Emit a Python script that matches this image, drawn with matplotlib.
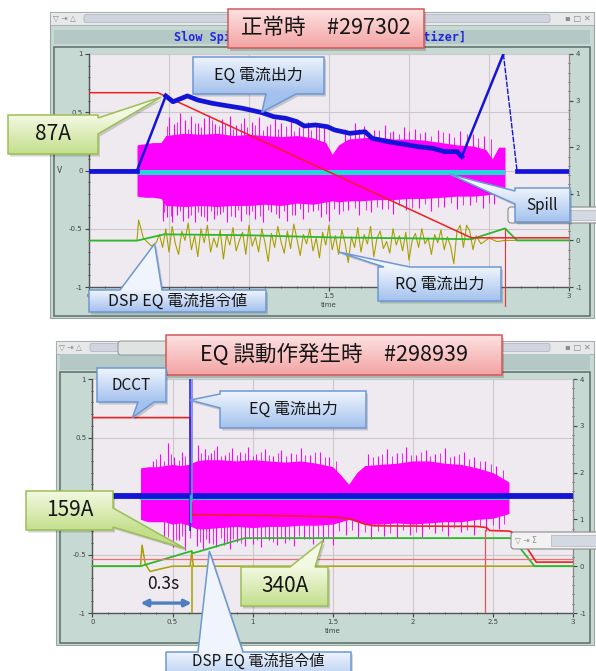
import numpy as np
import matplotlib
matplotlib.use('Agg')
import matplotlib.pyplot as plt
from matplotlib.patches import Rectangle, FancyBboxPatch, Polygon
from matplotlib.ticker import MultipleLocator
from matplotlib.colors import to_rgb

JP = ['Noto Sans CJK JP', 'DejaVu Sans']

# ---------------- top shot (normal, #297302) ----------------
red1_t = [0.00, 0.43, 2.39, 3.00]
red1_v = [0.668, 0.668, -0.578, -0.578]

blue1_t = [0.00, 0.30, 0.48, 0.525, 0.615, 0.68, 0.77, 0.87, 0.96, 1.08, 1.155, 1.23, 1.30, 1.345,
           1.415, 1.49, 1.535, 1.63, 1.725, 1.77, 1.87, 1.96, 2.06, 2.15, 2.22, 2.30, 2.33, 2.59, 2.675, 3.00]
blue1_v = [0.00, 0.00, 0.64, 0.59, 0.64, 0.605, 0.577, 0.554, 0.534, 0.497, 0.462, 0.448, 0.419, 0.382,
           0.391, 0.376, 0.348, 0.319, 0.333, 0.276, 0.247, 0.227, 0.204, 0.19, 0.162, 0.162, 0.119, 1.0, 0.0, 0.0]

green1_t = [0.00, 0.30, 0.47, 1.00, 1.51, 2.00, 2.39, 2.60, 2.675, 3.00]
green1_v = [-0.602, -0.602, -0.548, -0.556, -0.574, -0.582, -0.59, -0.497, -0.60, -0.60]

olive1_head_t = [0.00, 0.30, 0.31, 0.34, 0.39, 0.42]
olive1_head_v = [-0.60, -0.60, -0.425, -0.58, -0.648, -0.62]
olive1_noise = [-0.55, -0.66, -0.50, -0.70, -0.48, -0.63, -0.72, -0.52, -0.60, -0.45,
                -0.68, -0.56, -0.74, -0.50, -0.62, -0.47, -0.70, -0.58, -0.66, -0.51,
                -0.76, -0.55, -0.64, -0.49, -0.69, -0.60, -0.53, -0.72, -0.47, -0.65,
                -0.57, -0.70, -0.50, -0.62, -0.78, -0.54, -0.66, -0.48, -0.61, -0.71,
                -0.52, -0.67, -0.46, -0.59, -0.73, -0.55, -0.63, -0.50, -0.69, -0.58,
                -0.75, -0.53, -0.64, -0.47, -0.68, -0.56, -0.72, -0.51, -0.62, -0.79,
                -0.57, -0.66, -0.49, -0.70, -0.55, -0.63, -0.48, -0.74, -0.58, -0.52,
                -0.67, -0.61, -0.71, -0.50, -0.64, -0.56, -0.69, -0.53, -0.77, -0.60,
                -0.54, -0.66, -0.50, -0.63, -0.58, -0.72, -0.55, -0.62, -0.51, -0.68,
                -0.57, -0.65, -0.80, -0.52, -0.47, -0.66]
olive1_tail_t = [2.36, 2.38, 2.40, 2.42, 2.45, 2.50, 2.55, 2.60, 3.00]
olive1_tail_v = [-0.47, -0.52, -0.68, -0.56, -0.63, -0.58, -0.61, -0.60, -0.60]

mag1_t = [0.30, 0.35, 0.40, 0.45, 0.48, 0.60, 0.70, 0.80, 0.90, 1.00, 1.10, 1.20, 1.30, 1.40, 1.48,
          1.52, 1.56, 1.62, 1.70, 1.80, 1.90, 2.00, 2.10, 2.20, 2.30, 2.40, 2.48, 2.52, 2.56, 2.60]
mag1_hi = [0.22, 0.23, 0.24, 0.24, 0.30, 0.32, 0.31, 0.32, 0.30, 0.31, 0.30, 0.29, 0.30, 0.28, 0.24,
           0.14, 0.22, 0.27, 0.28, 0.29, 0.27, 0.27, 0.26, 0.24, 0.22, 0.21, 0.18, 0.10, 0.20, 0.20]
mag1_lo = [-0.22, -0.23, -0.23, -0.24, -0.30, -0.31, -0.30, -0.31, -0.30, -0.30, -0.29, -0.30, -0.28, -0.29, -0.27,
           -0.26, -0.27, -0.26, -0.26, -0.25, -0.25, -0.24, -0.24, -0.23, -0.22, -0.22, -0.21, -0.2, -0.22, -0.22]
mag1_up_t = [0.50, 0.53, 0.57, 0.60, 0.64, 0.68, 0.72, 0.75, 0.79, 0.83, 0.88, 0.92, 0.97, 1.02, 1.06, 1.11,
             1.16, 1.20, 1.26, 1.31, 1.37, 1.42, 1.47, 1.60, 1.66, 1.72, 1.78, 1.85, 1.90, 1.97, 2.04, 2.10,
             2.18, 2.25, 2.32, 2.40, 2.47]
mag1_up_v = [0.46, 0.40, 0.49, 0.43, 0.47, 0.41, 0.45, 0.48, 0.40, 0.44, 0.47, 0.39, 0.45, 0.42, 0.46, 0.38,
             0.44, 0.41, 0.43, 0.37, 0.42, 0.39, 0.40, 0.36, 0.41, 0.38, 0.35, 0.39, 0.34, 0.37, 0.36, 0.33,
             0.35, 0.32, 0.34, 0.31, 0.30]
mag1_up2_t = [0.49, 0.55, 0.62, 0.66, 0.70, 0.77, 0.81, 0.85, 0.90, 0.95, 0.99, 1.04, 1.09, 1.13, 1.18, 1.23,
              1.28, 1.34, 1.39, 1.44, 1.63, 1.69, 1.75, 1.81, 1.88, 1.94, 2.00, 2.07, 2.14, 2.21, 2.28, 2.36,
              2.43, 2.51]
mag1_up2_v = [0.38, 0.42, 0.36, 0.41, 0.37, 0.43, 0.38, 0.40, 0.36, 0.41, 0.37, 0.39, 0.35, 0.40, 0.36, 0.38,
              0.34, 0.39, 0.35, 0.37, 0.33, 0.36, 0.32, 0.35, 0.33, 0.31, 0.34, 0.32, 0.30, 0.33, 0.29, 0.31,
              0.28, 0.27]
mag1_dn_t = [0.46, 0.49, 0.52, 0.55, 0.59, 0.62, 0.66, 0.70, 0.74, 0.78, 0.82, 0.86, 0.91, 0.95, 1.00, 1.04,
             1.09, 1.14, 1.19, 1.24, 1.29, 1.34, 1.40, 1.45, 1.50, 1.56, 1.62, 1.69, 1.76, 1.83, 1.90, 1.98,
             2.06, 2.14, 2.22, 2.30, 2.38, 2.46, 2.53]
mag1_dn_v = [-0.43, -0.40, -0.44, -0.38, -0.43, -0.41, -0.44, -0.39, -0.43, -0.42, -0.37, -0.44, -0.40, -0.43,
             -0.38, -0.42, -0.44, -0.36, -0.41, -0.43, -0.38, -0.42, -0.35, -0.40, -0.43, -0.37, -0.34, -0.38,
             -0.36, -0.33, -0.37, -0.34, -0.32, -0.35, -0.31, -0.33, -0.30, -0.32, -0.29]
mag1_dn2_t = [0.47, 0.51, 0.57, 0.64, 0.68, 0.72, 0.76, 0.80, 0.84, 0.89, 0.93, 0.98, 1.02, 1.07, 1.12, 1.17,
              1.22, 1.27, 1.32, 1.37, 1.43, 1.48, 1.53, 1.59, 1.66, 1.73, 1.80, 1.87, 1.94, 2.02, 2.10, 2.18,
              2.26, 2.34, 2.42, 2.50]
mag1_dn2_v = [-0.36, -0.39, -0.35, -0.38, -0.36, -0.40, -0.35, -0.38, -0.36, -0.39, -0.34, -0.37, -0.35, -0.39,
              -0.34, -0.37, -0.35, -0.38, -0.33, -0.36, -0.34, -0.37, -0.33, -0.35, -0.32, -0.34, -0.31, -0.33,
              -0.30, -0.32, -0.29, -0.31, -0.28, -0.30, -0.27, -0.28]
spill1_t = [0.30, 2.60]
marker1_t = 2.60

# ---------------- bottom shot (EQ malfunction, #298939) ----------------
red2_t = [0.00, 0.61, 0.62, 0.64, 1.00, 1.40, 1.55, 1.62, 1.70, 1.76, 2.40, 2.46, 2.48, 2.60, 2.66, 2.70, 2.74, 2.77, 3.00]
red2_v = [0.67, 0.67, -0.16, -0.16, -0.165, -0.175, -0.185, -0.20, -0.24, -0.255, -0.26, -0.27, -0.295,
          -0.30, -0.33, -0.42, -0.50, -0.565, -0.565]
red2_level = -0.54
red2_mark_t = 2.45

blue2_t = [0.00, 3.00]
blue2_v = [0.00, 0.00]
blue2_spike_t = [0.61, 0.622]

green2_t = [0.00, 0.30, 0.62, 0.625, 0.95, 2.62, 2.76, 3.00]
green2_v = [-0.60, -0.60, -0.47, -0.49, -0.36, -0.36, -0.60, -0.60]

olive2_t = [0.00, 0.30, 0.31, 0.33, 0.36, 0.42, 0.50, 0.61, 0.62, 0.63, 3.00]
olive2_v = [-0.60, -0.60, -0.42, -0.58, -0.645, -0.625, -0.60, -0.60, -0.48, -0.60, -0.60]
olive2_drop_t = 0.62

mag2_t = [0.30, 0.35, 0.40, 0.45, 0.50, 0.55, 0.60, 0.65, 0.70, 0.80, 0.90, 1.00, 1.10, 1.20, 1.30, 1.40,
          1.50, 1.55, 1.60, 1.65, 1.70, 1.80, 1.90, 2.00, 2.10, 2.20, 2.30, 2.40, 2.50, 2.55, 2.60]
mag2_hi = [0.24, 0.25, 0.25, 0.26, 0.27, 0.26, 0.27, 0.30, 0.31, 0.31, 0.30, 0.31, 0.30, 0.29, 0.30, 0.28,
           0.25, 0.18, 0.10, 0.20, 0.26, 0.27, 0.28, 0.30, 0.30, 0.28, 0.27, 0.24, 0.20, 0.16, 0.12]
mag2_lo = [-0.20, -0.22, -0.22, -0.22, -0.24, -0.23, -0.25, -0.28, -0.28, -0.27, -0.26, -0.27, -0.26, -0.26,
           -0.25, -0.25, -0.24, -0.22, -0.20, -0.22, -0.24, -0.24, -0.23, -0.24, -0.23, -0.22, -0.22, -0.20,
           -0.19, -0.17, -0.15]
mag2_up_t = [0.38, 0.42, 0.47, 0.51, 0.56, 0.66, 0.70, 0.74, 0.78, 0.83, 0.87, 0.92, 0.97, 1.02, 1.08, 1.13,
             1.18, 1.24, 1.30, 1.36, 1.42, 1.48, 1.72, 1.78, 1.84, 1.90, 1.96, 2.02, 2.08, 2.14, 2.20, 2.26,
             2.32, 2.38, 2.45, 2.52]
mag2_up_v = [0.30, 0.36, 0.45, 0.33, 0.38, 0.44, 0.40, 0.37, 0.43, 0.35, 0.41, 0.38, 0.42, 0.36, 0.40, 0.34,
             0.39, 0.37, 0.41, 0.35, 0.38, 0.33, 0.36, 0.34, 0.40, 0.37, 0.42, 0.35, 0.39, 0.36, 0.41, 0.34,
             0.38, 0.33, 0.30, 0.26]
mag2_up2_t = [0.40, 0.45, 0.49, 0.54, 0.58, 0.68, 0.72, 0.76, 0.80, 0.85, 0.90, 0.95, 1.00, 1.05, 1.10, 1.16,
              1.21, 1.27, 1.33, 1.39, 1.45, 1.52, 1.75, 1.81, 1.87, 1.93, 1.99, 2.05, 2.11, 2.17, 2.23, 2.29,
              2.35, 2.42, 2.49, 2.56]
mag2_up2_v = [0.32, 0.30, 0.36, 0.31, 0.34, 0.37, 0.35, 0.39, 0.34, 0.38, 0.35, 0.37, 0.34, 0.38, 0.35, 0.37,
              0.34, 0.36, 0.35, 0.38, 0.33, 0.30, 0.33, 0.36, 0.34, 0.37, 0.35, 0.38, 0.34, 0.37, 0.33, 0.36,
              0.32, 0.30, 0.27, 0.22]
mag2_dn_t = [0.45, 0.50, 0.54, 0.58, 0.65, 0.69, 0.73, 0.77, 0.82, 0.86, 0.90, 0.95, 1.00, 1.05, 1.10, 1.15,
             1.20, 1.26, 1.32, 1.38, 1.44, 1.50, 1.58, 1.66, 1.74, 1.82, 1.90, 1.98, 2.06, 2.14, 2.22, 2.30,
             2.38, 2.46, 2.54]
mag2_dn_v = [-0.40, -0.44, -0.38, -0.46, -0.43, -0.45, -0.40, -0.44, -0.42, -0.45, -0.39, -0.43, -0.41, -0.44,
             -0.38, -0.42, -0.40, -0.43, -0.37, -0.41, -0.39, -0.42, -0.33, -0.35, -0.37, -0.34, -0.36, -0.33,
             -0.35, -0.32, -0.34, -0.31, -0.33, -0.30, -0.28]
mag2_dn2_t = [0.47, 0.52, 0.56, 0.61, 0.67, 0.71, 0.75, 0.80, 0.84, 0.88, 0.93, 0.98, 1.03, 1.08, 1.13, 1.18,
              1.23, 1.29, 1.35, 1.41, 1.47, 1.54, 1.62, 1.70, 1.78, 1.86, 1.94, 2.02, 2.10, 2.18, 2.26, 2.34,
              2.42, 2.50, 2.57]
mag2_dn2_v = [-0.35, -0.38, -0.34, -0.36, -0.39, -0.37, -0.41, -0.36, -0.39, -0.37, -0.40, -0.36, -0.38, -0.35,
              -0.39, -0.36, -0.38, -0.34, -0.37, -0.35, -0.36, -0.30, -0.29, -0.31, -0.30, -0.32, -0.29, -0.31,
              -0.28, -0.30, -0.27, -0.29, -0.26, -0.25, -0.24]
spill2_t = [0.30, 2.60]

x_ticks = [0, 0.5, 1, 1.5, 2, 2.5, 3]
x_labels = ['0', '0.5', '1', '1.5', '2', '2.5', '3']
yl_ticks = [-1, -0.5, 0, 0.5, 1]
yl_labels = ['-1', '-0.5', '0', '0.5', '1']
yr_ticks = [-1, 0, 1, 2, 3, 4]
yr_labels = ['-1', '0', '1', '2', '3', '4']

RED, BLUE, GREEN, OLIVE, MAG, CYAN = '#ee2020', '#1414d8', '#2cb82c', '#a8a000', '#ff00ff', '#20d8d8'

fig = plt.figure(figsize=(5.96, 6.71), dpi=100)
fig.patch.set_facecolor('white')

# window chrome behind the plots (pixel coordinates)
bg = fig.add_axes([0, 0, 1, 1], zorder=-5)
bg.set_xlim(0, 596)
bg.set_ylim(671, 0)
bg.axis('off')


def window(x0, y0, x1, y1, band0, band1, panel0):
    bg.add_patch(Rectangle((x0, y0), x1 - x0, y1 - y0, fc='#c6d9d3', ec='#98a6a2', lw=0.8))
    bg.add_patch(Rectangle((x0, y0), x1 - x0, 13, fc='#e6e8ea', ec='#a4a8ac', lw=0.6))
    bg.add_patch(FancyBboxPatch((x0 + 34, y0 + 2.5), x1 - x0 - 78, 8,
                                boxstyle='round,pad=0,rounding_size=2', fc='#cfd4de', ec='#aeb3bd', lw=0.5))
    bg.text(x0 + 3, y0 + 6.5, '▽ ⇥ △', fontsize=5.5, color='#8c8c8c', va='center', family='DejaVu Sans')
    bg.text(x1 - 3, y0 + 6.5, '▪ □ ✕', fontsize=6, color='#8c8c8c', va='center', ha='right', family='DejaVu Sans')
    bg.add_patch(Rectangle((x0 + 4, band0), x1 - x0 - 8, band1 - band0, fc='#b4c9c6', ec='none'))
    bg.add_patch(Rectangle((x0 + 4, panel0), x1 - x0 - 8, y1 - panel0 - 2, fc='none', ec='#5e6c68', lw=1.1))


window(50, 12, 594, 318, 30, 44, 47)
window(56, 341, 594, 645, 354, 370, 372)
# tab of the lower window
bg.add_patch(FancyBboxPatch((118, 341), 50, 14, boxstyle='round,pad=0,rounding_size=3',
                            fc='#dfe3e2', ec='#8e9694', lw=0.7))
bg.text(320, 37, 'Slow Spill Monitor [Slow Spill Digitizer]', family='DejaVu Sans Mono',
        weight='bold', color='#2424e0', fontsize=8.5, ha='center', va='center')


def setup(ax):
    ax.set_facecolor('#efeaef')
    ax.set_xlim(0, 3)
    ax.set_ylim(-1, 1)
    ax.set_axisbelow(True)
    ax.grid(True, color='#cbc7cb', lw=0.8)
    ax.set_xticks(x_ticks)
    ax.set_xticklabels(x_labels)
    ax.set_yticks(yl_ticks)
    ax.set_yticklabels(yl_labels)
    ax.xaxis.set_minor_locator(MultipleLocator(0.1))
    ax.yaxis.set_minor_locator(MultipleLocator(0.1))
    ax.tick_params(which='major', labelsize=5, colors='#444', length=3, width=0.8, pad=1.5)
    ax.tick_params(which='minor', length=2, width=0.7, colors='#555', direction='inout')
    ax.spines['top'].set_visible(False)
    ax.spines['right'].set_color('#888')
    for s in ('left', 'bottom'):
        ax.spines[s].set_color('#555')
        ax.spines[s].set_linewidth(1.0)
    ax.set_xlabel('time', fontsize=5, color='#444', labelpad=2)
    r = ax.twinx()
    r.set_ylim(-1, 4)
    r.set_yticks(yr_ticks)
    r.set_yticklabels(yr_labels)
    r.yaxis.set_minor_locator(MultipleLocator(0.2))
    r.tick_params(which='major', labelsize=5, colors='#444', length=3, width=0.8, pad=1.5)
    r.tick_params(which='minor', length=2, width=0.7, colors='#555', direction='inout')
    for s in ('top', 'left', 'bottom'):
        r.spines[s].set_visible(False)
    r.spines['right'].set_color('#888')
    return r


ax1 = fig.add_axes([89 / 596, 1 - 287 / 671, 480 / 596, 233 / 671])
ax2 = fig.add_axes([92.4 / 596, 1 - 613 / 671, 480.6 / 596, 234 / 671])
setup(ax1)
setup(ax2)
ax1.text(-0.066, 0.5, 'V', transform=ax1.transAxes, fontsize=5.5, color='#444', va='center')

# ---- top traces
ax1.fill_between(mag1_t, mag1_lo, mag1_hi, color=MAG, lw=0, zorder=2)
ax1.vlines(mag1_up_t, 0, mag1_up_v, color=MAG, lw=0.8, zorder=2)
ax1.vlines(mag1_dn_t, 0, mag1_dn_v, color=MAG, lw=0.8, zorder=2)
ax1.vlines(mag1_up2_t, 0, mag1_up2_v, color=MAG, lw=0.6, zorder=2)
ax1.vlines(mag1_dn2_t, 0, mag1_dn2_v, color=MAG, lw=0.6, zorder=2)
ax1.fill_between(spill1_t, [-0.035, -0.035], [0.005, 0.005], color=CYAN, lw=0, zorder=3)
olive1_t = np.linspace(0.44, 2.34, len(olive1_noise))
ax1.plot(olive1_head_t + list(olive1_t) + olive1_tail_t, olive1_head_v + olive1_noise + olive1_tail_v,
         color=OLIVE, lw=0.8, zorder=4)
ax1.plot(green1_t, green1_v, color=GREEN, lw=1.3, zorder=5)
ax1.plot(red1_t, red1_v, color=RED, lw=1.1, zorder=6)
ax1.plot([marker1_t, marker1_t], [-0.5, -1.16], color='#f03030', lw=0.8, zorder=6, clip_on=False)
# blue: thin ramps, dashed fall, thick noisy stretches
ax1.plot(blue1_t[:-2], blue1_v[:-2], color=BLUE, lw=1.8, zorder=7)
ax1.plot(blue1_t[-3:-1], blue1_v[-3:-1], color=BLUE, lw=1.0, ls=(0, (4, 1)), zorder=7)
for a, b in ((0, 2), (2, 27), (28, 30)):
    ax1.plot(blue1_t[a:b], blue1_v[a:b], color=BLUE, lw=3.4, zorder=7)

# ---- bottom traces
ax2.fill_between(mag2_t, mag2_lo, mag2_hi, color=MAG, lw=0, zorder=2)
ax2.vlines(mag2_up_t, 0, mag2_up_v, color=MAG, lw=0.8, zorder=2)
ax2.vlines(mag2_dn_t, 0, mag2_dn_v, color=MAG, lw=0.8, zorder=2)
ax2.vlines(mag2_up2_t, 0, mag2_up2_v, color=MAG, lw=0.6, zorder=2)
ax2.vlines(mag2_dn2_t, 0, mag2_dn2_v, color=MAG, lw=0.6, zorder=2)
ax2.fill_between(spill2_t, [-0.03, -0.03], [0.01, 0.01], color=CYAN, lw=0, zorder=3)
ax2.plot(olive2_t, olive2_v, color=OLIVE, lw=1.1, zorder=4)
ax2.plot([olive2_drop_t, olive2_drop_t], [-0.6, -1.0], color=OLIVE, lw=1.1, zorder=4)
ax2.plot(green2_t, green2_v, color=GREEN, lw=1.3, zorder=5)
ax2.axhline(red2_level, color='#f07070', lw=0.9, zorder=5)
ax2.plot(red2_t, red2_v, color=RED, lw=1.2, zorder=6)
ax2.plot([red2_mark_t, red2_mark_t], [-0.29, -1.0], color='#f05050', lw=0.9, zorder=6)
ax2.plot(blue2_t, blue2_v, color=BLUE, lw=4.2, zorder=7)
ax2.vlines(blue2_spike_t, [-0.3, -0.05], [1.0, 1.0], colors=['#2a2ae0', '#8080f0'], lw=1.2, zorder=8)
ax2.plot([0.618, 0.618], [0.0, -0.22], color='#30b8c8', lw=1.4, zorder=8)

# ---------------- overlay: callouts ----------------
ov = fig.add_axes([0, 0, 1, 1], zorder=20)
ov.set_xlim(0, 596)
ov.set_ylim(671, 0)
ov.set_autoscale_on(False)
ov.axis('off')
ov.patch.set_alpha(0)


def to_px(ax, t, v):
    return tuple(ov.transData.inverted().transform(ax.transData.transform((t, v))))


def mini_window(x0, y0, x1, y1, icons):
    ov.add_patch(FancyBboxPatch((x0, y0), x1 - x0, y1 - y0, boxstyle='round,pad=0,rounding_size=3',
                                fc='#f2f2f2', ec='#8a8a8a', lw=0.8, zorder=1))
    ov.add_patch(Rectangle((x0 + 40, y0 + 3), x1 - x0 - 40, y1 - y0 - 6, fc='#d4d8e0', ec='#b0b4bc',
                           lw=0.5, zorder=1.1))
    if icons:
        ov.text(x0 + 4, (y0 + y1) / 2, '▽ ⇥ Σ', fontsize=5.5, color='#909090', va='center', zorder=1.2,
                family='DejaVu Sans')


mini_window(508, 207, 605, 223, False)
mini_window(511, 532, 605, 549, True)

STYLES = {
    'blue': ('#f0f5fd', '#a3c1ed', '#6d98d4'),
    'green': ('#f4f9e3', '#c3df8c', '#9bbf55'),
    'pink': ('#fde2e2', '#f3a3a3', '#d45858'),
}
zc = [3]


def callout(x0, y0, x1, y1, text, kind, fs, tip=None, side=None, b0=0, b1=0, ty=None):
    c_top, c_bot, ec = STYLES[kind]
    v = [(x0, y0)]
    if side == 'top':
        v += [(b0, y0), tip, (b1, y0)]
    v.append((x1, y0))
    if side == 'right':
        v += [(x1, b0), tip, (x1, b1)]
    v.append((x1, y1))
    if side == 'bottom':
        v += [(b1, y1), tip, (b0, y1)]
    v.append((x0, y1))
    if side == 'left':
        v += [(x0, b1), tip, (x0, b0)]
    z = zc[0]
    zc[0] += 1
    ov.add_patch(Polygon([(px + 2, py + 2.5) for px, py in v], closed=True, fc='#000000',
                         alpha=0.16, ec='none', zorder=z))
    poly = Polygon(v, closed=True, fc='none', ec=ec, lw=1.1, joinstyle='miter', zorder=z + 0.3)
    ov.add_patch(poly)
    xs = [p[0] for p in v]
    ys = [p[1] for p in v]
    rows = np.linspace(min(ys), max(ys), 128)
    f = np.clip((rows - y0) / (y1 - y0), 0, 1)[:, None, None]
    img = np.array(to_rgb(c_top)) * (1 - f) + np.array(to_rgb(c_bot)) * f
    im = ov.imshow(img, extent=(min(xs), max(xs), max(ys), min(ys)), aspect='auto',
                   interpolation='bilinear', zorder=z + 0.2)
    im.set_clip_path(poly)
    ov.text((x0 + x1) / 2, (y0 + y1) / 2 if ty is None else ty, text, fontsize=fs, family=JP,
            color='#151515', ha='center', va='center', zorder=z + 0.5)


# top callouts
callout(228, 9, 424, 48, '正常時　#297302', 'pink', 15.5)
callout(193, 57, 324, 94, 'EQ 電流出力', 'blue', 11.5, to_px(ax1, 1.08, 0.50), 'bottom', 266, 296)
callout(8, 115, 98, 154, '87A', 'green', 15, to_px(ax1, 0.45, 0.63), 'right', 118, 134)
callout(515, 188, 570, 222, 'Spill', 'blue', 11, to_px(ax1, 2.25, -0.03), 'left', 191, 204)
callout(378, 267, 501, 301, 'RQ 電流出力', 'blue', 11.5, to_px(ax1, 1.56, -0.70), 'top', 384, 410)
callout(89, 290, 266, 312, 'DSP EQ 電流指令値', 'blue', 11.5, to_px(ax1, 0.41, -0.63), 'top', 120, 162)

# bottom callouts
callout(166, 335, 502, 375, 'EQ 誤動作発生時　#298939', 'pink', 15.5)
callout(97, 368, 166, 402, 'DCCT', 'blue', 11, to_px(ax2, 0.25, 0.67), 'bottom', 138, 154)
callout(220, 391, 366, 428, 'EQ 電流出力', 'blue', 11.5, to_px(ax2, 0.61, 0.82), 'left', 394, 408)
callout(26, 491, 113, 530, '159A', 'green', 15, to_px(ax2, 0.58, -0.45), 'right', 508, 527)
callout(241, 567, 328, 606, '340A', 'green', 15, to_px(ax2, 1.44, -0.38), 'top', 290, 315)
callout(166, 652, 351, 686, 'DSP EQ 電流指令値', 'blue', 11, to_px(ax2, 0.73, -0.47), 'top', 198, 243, ty=661)

ax2.annotate('', xy=(0.62, -0.915), xytext=(0.30, -0.915),
             arrowprops=dict(arrowstyle='<|-|>', color='#4f7fbf', lw=2.4, mutation_scale=10,
                             shrinkA=0, shrinkB=0), zorder=9)
ax2.text(0.44, -0.75, '0.3s', fontsize=12.5, family=JP, color='#151515', ha='center', va='center', zorder=9)

fig.savefig('out.png', dpi=100)
